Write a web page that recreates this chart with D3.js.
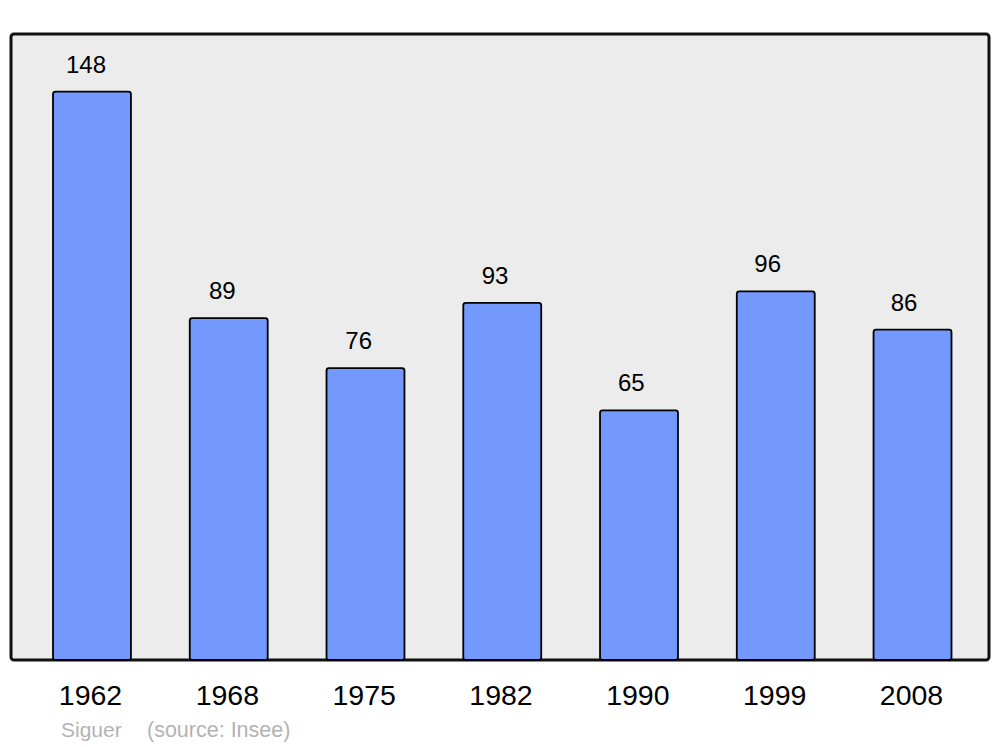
<!DOCTYPE html>
<html><head><meta charset="utf-8">
<script src="https://cdn.jsdelivr.net/npm/d3@7"></script>
<style>body{margin:0;background:#fff}svg{display:block;font-family:"Liberation Sans",Arial,sans-serif}</style>
</head><body>
<svg id="c" width="1000" height="747"></svg>
<script>
const years = ["1962","1968","1975","1982","1990","1999","2008"];
const population = [148, 89, 76, 93, 65, 96, 86];
const author = "Siguer";
const source = "(source: Insee)";

const svg = d3.select("#c");
const frame = {x0: 11, y0: 34, x1: 989, y1: 660};

svg.append("rect").attr("x", frame.x0).attr("y", frame.y0)
  .attr("width", frame.x1 - frame.x0).attr("height", frame.y1 - frame.y0)
  .attr("rx", 3).attr("fill", "#ececec").attr("stroke", "#111").attr("stroke-width", 3);

const x = d3.scaleBand().domain(years).range([23.6, 980.9]).paddingInner(0.43).paddingOuter(0.215);
const xVal = d3.scalePoint().domain(years).range([86, 904]);
const xLab = d3.scalePoint().domain(years).range([90, 911]);
const y = d3.scaleLinear().domain([0, 163]).range([frame.y1, frame.y0]);

const data = years.map((yr, i) => ({yr, v: population[i]}));

svg.selectAll("rect.bar").data(data).join("rect").attr("class", "bar")
  .attr("x", d => x(d.yr)).attr("y", d => y(d.v))
  .attr("width", x.bandwidth()).attr("height", d => y(0) - y(d.v))
  .attr("rx", 2.5).attr("fill", "#7399ff").attr("stroke", "#000").attr("stroke-width", 1.8);

svg.selectAll("text.val").data(data).join("text").attr("class", "val")
  .attr("x", d => xVal(d.yr)).attr("y", d => y(d.v) - 19)
  .attr("text-anchor", "middle").attr("font-size", 24).attr("fill", "#000")
  .text(d => d.v);

const ax = svg.append("g").attr("transform", `translate(0,${frame.y1})`)
  .call(d3.axisBottom(xLab).tickSize(0).tickPadding(0));
ax.select(".domain").remove();
ax.selectAll("text").attr("font-size", 28.5).attr("fill", "#000")
  .attr("font-family", "Liberation Sans, Arial, sans-serif")
  .attr("dy", null).attr("y", 45);

svg.append("text").attr("x", 61).attr("y", 737).attr("font-size", 21).attr("fill", "#b3b3b3").text(author);
svg.append("text").attr("x", 147).attr("y", 737).attr("font-size", 21.5).attr("fill", "#b3b3b3").text(source);
</script>
</body></html>
